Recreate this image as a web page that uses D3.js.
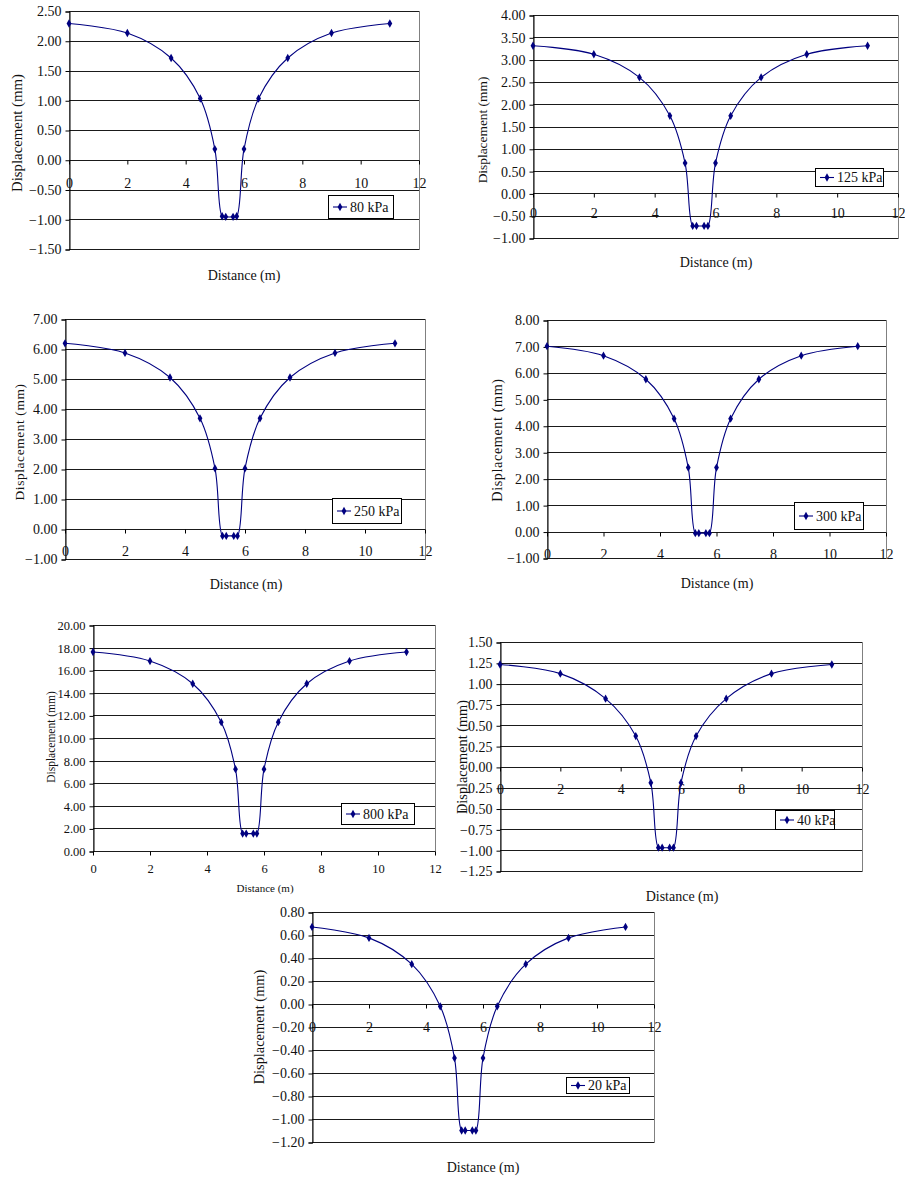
<!DOCTYPE html>
<html>
<head>
<meta charset="UTF-8">
<title>Displacement profiles</title>
<script src="https://cdn.jsdelivr.net/npm/d3@7/dist/d3.min.js"></script>
<style>
  body { margin: 0; background: #fff; }
  svg text { font-family: "Liberation Serif", "Times New Roman", serif; fill: #111; }
</style>
</head>
<body>
<svg id="chart" width="905" height="1178"></svg>
<script>
// distances along the section (m), shared by every load case
var distance = [0, 2, 3.5, 4.5, 5, 5.25, 5.375, 5.625, 5.75, 6, 6.5, 7.5, 9, 11];

// displacement (mm) per load case
var disp80  = [2.29, 2.13, 1.71, 1.03, 0.18, -0.95, -0.96, -0.96, -0.95, 0.18, 1.03, 1.71, 2.13, 2.29];
var disp125 = [3.31, 3.12, 2.60, 1.74, 0.68, -0.73, -0.73, -0.73, -0.73, 0.68, 1.74, 2.60, 3.12, 3.31];
var disp250 = [6.19, 5.87, 5.05, 3.69, 2.02, -0.23, -0.23, -0.23, -0.23, 2.02, 3.69, 5.05, 5.87, 6.19];
var disp300 = [7.01, 6.65, 5.76, 4.27, 2.42, -0.06, -0.06, -0.06, -0.06, 2.42, 4.27, 5.76, 6.65, 7.01];
var disp800 = [17.61, 16.81, 14.80, 11.40, 7.24, 1.54, 1.54, 1.54, 1.54, 7.24, 11.40, 14.80, 16.81, 17.61];
var disp40  = [1.23, 1.12, 0.82, 0.37, -0.19, -0.97, -0.97, -0.97, -0.97, -0.19, 0.37, 0.82, 1.12, 1.23];
var disp20  = [0.67, 0.575, 0.346, -0.02, -0.47, -1.10, -1.10, -1.10, -1.10, -0.47, -0.02, 0.346, 0.575, 0.67];

var loadLabels = ["80 kPa", "125 kPa", "250 kPa", "300 kPa", "800 kPa", "40 kPa", "20 kPa"];
var series = [disp80, disp125, disp250, disp300, disp800, disp40, disp20];

// y axis range and tick step per load case
var yMin  = [-1.5, -1, -1, -1, 0, -1.25, -1.2];
var yMax  = [2.5, 4, 7, 8, 20, 1.5, 0.8];
var yStep = [0.5, 0.5, 1, 1, 2, 0.25, 0.2];
var xTicks = [0, 2, 4, 6, 8, 10, 12];

var xTitle = "Distance (m)";
var yTitle = "Displacement (mm)";

// layout of each panel (pixels)
var panels = [
  {l: 69,  t: 11,  r: 419, b: 249,  xlab: 27, tick: 14, ytx: 17,  yty: 133, ytf: 14.8, ls: 0,   xtx: 244, xty: 275,  leg: [328, 195, 65, 23]},
  {l: 533, t: 15,  r: 898, b: 238,  xlab: 24, tick: 14, ytx: 482, yty: 130, ytf: 13.4, ls: 0,   xtx: 716, xty: 262,  leg: [815, 168, 68, 18]},
  {l: 65,  t: 319, r: 425, b: 559,  xlab: 26, tick: 14, ytx: 19,  yty: 442, ytf: 13.4, ls: 0.6, xtx: 246, xty: 584,  leg: [332, 498, 69, 25]},
  {l: 547, t: 320, r: 886, b: 558,  xlab: 26, tick: 14, ytx: 497, yty: 440, ytf: 14.2, ls: 0.6, xtx: 717, xty: 583,  leg: [794, 502, 69, 27]},
  {l: 93,  t: 625, r: 435, b: 851,  xlab: 21, tick: 12.5, ytx: 51,  yty: 737, ytf: 11.5, ls: 0,   xtx: 265, xty: 888,  leg: [341, 803, 73, 21], below: true, xtf: 11},
  {l: 500, t: 642, r: 862, b: 871,  xlab: 26, tick: 14, ytx: 462, yty: 757, ytf: 14.3, ls: 0,   xtx: 682, xty: 896,  leg: [775, 810, 59, 19]},
  {l: 312, t: 912, r: 654, b: 1142, xlab: 27, tick: 14, ytx: 259, yty: 1027, ytf: 14.4, ls: 0,  xtx: 483, xty: 1167, leg: [566, 1077, 63, 16]}
];

var svg = d3.select("#chart");
var navy = "#000080";
var diamond = d3.symbol().type(d3.symbolDiamond).size(20);

panels.forEach(function(p, i) {
  var g = svg.append("g");
  var x = d3.scaleLinear().domain([0, 12]).range([p.l, p.r]);
  var y = d3.scaleLinear().domain([yMin[i], yMax[i]]).range([p.b, p.t]);
  var yTickVals = d3.range(yMin[i], yMax[i] + yStep[i] / 2, yStep[i]);

  // plot area border
  g.append("rect")
    .attr("x", p.l + 0.5).attr("y", p.t + 0.5)
    .attr("width", p.r - p.l).attr("height", p.b - p.t)
    .attr("fill", "none").attr("stroke", "#808080");

  // gridlines
  g.selectAll(".grid").data(yTickVals).enter().append("line")
    .attr("x1", p.l).attr("x2", p.r)
    .attr("y1", function(d) { return Math.round(y(d)) + 0.5; })
    .attr("y2", function(d) { return Math.round(y(d)) + 0.5; })
    .attr("stroke", "#1a1a1a").attr("stroke-width", 1);

  // y axis
  var yAxis = d3.axisLeft(y).tickValues(yTickVals).tickSize(4).tickPadding(4)
    .tickFormat(d3.format(".2f"));
  var ya = g.append("g").attr("transform", "translate(" + (p.l + 0.5) + ",0.5)").call(yAxis);
  ya.attr("font-family", null);
  ya.select(".domain").attr("stroke", "#000");
  ya.selectAll(".tick line").attr("stroke", "#000");
  ya.selectAll("text").attr("font-size", p.tick).attr("fill", "#111");

  // x axis crosses at zero (or at the bottom when the range starts at zero)
  var x0 = p.below ? p.b : Math.round(y(0));
  var xAxis = d3.axisBottom(x).tickValues(xTicks).tickSize(4).tickPadding(0).tickFormat(d3.format("d"));
  var xa = g.append("g").attr("transform", "translate(0," + (x0 + 0.5) + ")").call(xAxis);
  xa.attr("font-family", null);
  xa.select(".domain").remove();
  xa.selectAll(".tick line").attr("stroke", "#000");
  xa.selectAll("text").attr("font-size", p.tick).attr("fill", "#111")
    .attr("dy", null).attr("y", p.xlab);

  // line + markers
  var pts = distance.map(function(d, k) { return [d, series[i][k]]; });
  var line = d3.line()
    .x(function(d) { return x(d[0]); })
    .y(function(d) { return y(d[1]); })
    .curve(d3.curveCatmullRom.alpha(0.5));
  g.append("path").datum(pts).attr("d", line)
    .attr("fill", "none").attr("stroke", navy).attr("stroke-width", 1.1);
  g.selectAll(".pt").data(pts).enter().append("path")
    .attr("d", diamond)
    .attr("transform", function(d) { return "translate(" + x(d[0]) + "," + y(d[1]) + ")"; })
    .attr("fill", navy);

  // axis titles
  g.append("text")
    .attr("x", p.xtx).attr("y", p.xty)
    .attr("text-anchor", "middle").attr("dominant-baseline", "central")
    .attr("font-size", p.xtf || 14)
    .text(xTitle);
  g.append("text")
    .attr("transform", "translate(" + p.ytx + "," + p.yty + ") rotate(-90)")
    .attr("text-anchor", "middle").attr("dominant-baseline", "central")
    .attr("font-size", p.ytf).attr("letter-spacing", p.ls)
    .text(yTitle);

  // legend
  var L = p.leg;
  var lg = g.append("g");
  lg.append("rect")
    .attr("x", L[0] + 0.5).attr("y", L[1] + 0.5).attr("width", L[2]).attr("height", L[3])
    .attr("fill", "#fff").attr("stroke", "#000");
  var cy = L[1] + L[3] / 2 + 0.5;
  lg.append("line")
    .attr("x1", L[0] + 5).attr("x2", L[0] + 19).attr("y1", cy).attr("y2", cy)
    .attr("stroke", navy).attr("stroke-width", 1.1);
  lg.append("path").attr("d", diamond)
    .attr("transform", "translate(" + (L[0] + 12) + "," + cy + ")").attr("fill", navy);
  lg.append("text")
    .attr("x", L[0] + 22).attr("y", cy)
    .attr("dominant-baseline", "central").attr("font-size", 14)
    .text(loadLabels[i]);
});
</script>
</body>
</html>
